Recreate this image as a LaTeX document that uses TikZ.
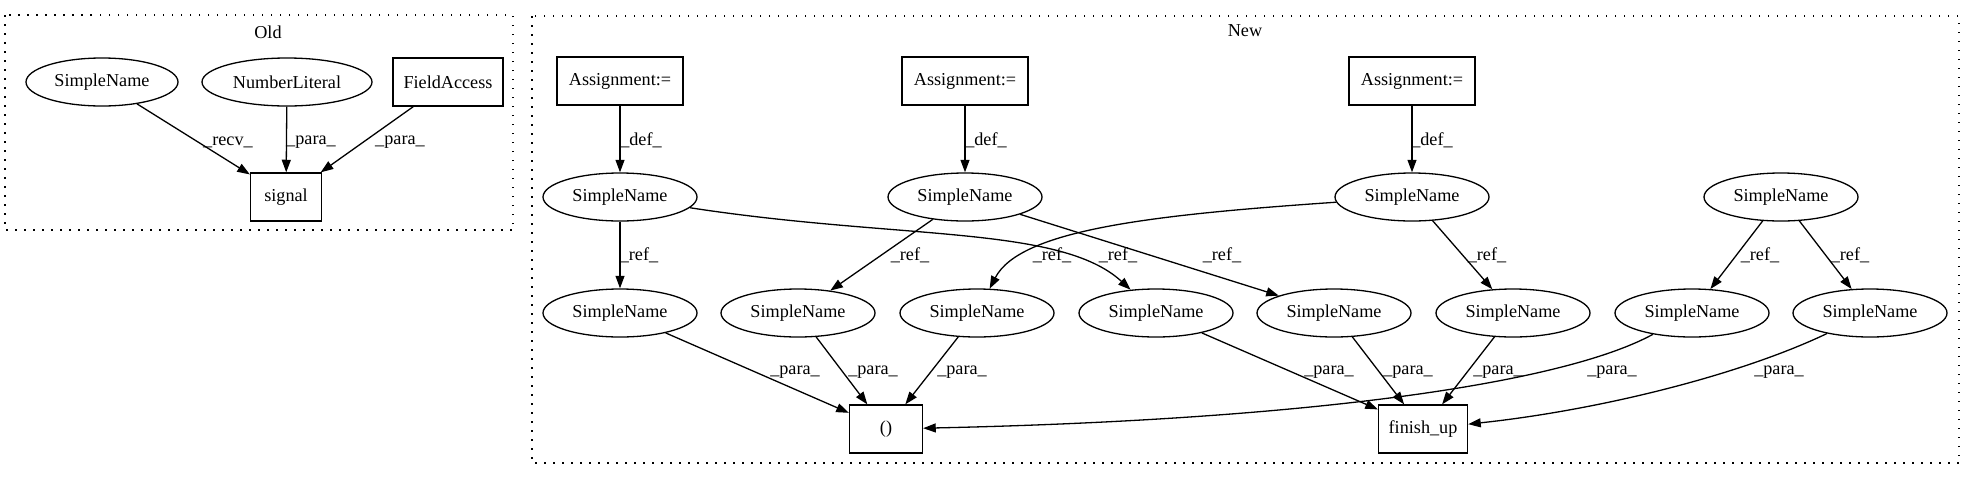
\documentclass[tikz,border=0pt]{standalone}
\usepackage{fontspec}
\setmainfont{Liberation Serif}
\usetikzlibrary{arrows.meta,shapes.geometric}
\begin{document}
\begin{tikzpicture}[x=1pt,y=1pt,
 every node/.style={font=\fontsize{18.2pt}{22pt}\selectfont, inner sep=0pt},
 ell/.style={draw, ellipse, line width=1.3pt, minimum width=154pt, minimum height=48pt},
 box/.style={draw, rectangle, line width=1.3pt, minimum height=48pt},
 edge/.style={line width=1.3pt, -{Triangle[length=12.6pt,width=9pt]}},
 lbl/.style={anchor=center},
 cluster/.style={line width=1.3pt, dash pattern=on 1.5pt off 7.5pt}]
\useasboundingbox (0,0) rectangle (1975,-480);
% clusters
\draw[cluster] (5,-15) rectangle (513,-230);
\draw[cluster] (532,-16) rectangle (1959,-463);
\node (tOld) at (268,-32) {Old};
\node (tNew) at (1245,-31) {New};
% Old nodes
\node[ell, minimum width=152pt] (oS) at (102,-82) {SimpleName};
\node[ell, minimum width=170pt] (oN) at (287,-82) {NumberLiteral};
\node[box, minimum width=110pt] (oF) at (448,-82) {FieldAccess};
\node[box, minimum width=71pt] (oSig) at (286,-197) {signal};
% New nodes
\node[box, minimum width=126pt] (A1) at (620,-81) {Assignment:=};
\node[box, minimum width=126pt] (A2) at (965,-81) {Assignment:=};
\node[box, minimum width=126pt] (A3) at (1412,-81) {Assignment:=};
\node[ell] (S1) at (620,-197) {SimpleName};
\node[ell] (S2) at (965,-197) {SimpleName};
\node[ell] (S3) at (1412,-197) {SimpleName};
\node[ell] (S4) at (1781,-197) {SimpleName};
\node[ell] (R1) at (620,-313) {SimpleName};
\node[ell] (R2) at (798,-313) {SimpleName};
\node[ell] (R3) at (977,-313) {SimpleName};
\node[ell] (R4) at (1156,-313) {SimpleName};
\node[ell] (R5) at (1334,-313) {SimpleName};
\node[ell] (R6) at (1513,-313) {SimpleName};
\node[ell] (R7) at (1692,-313) {SimpleName};
\node[ell] (R8) at (1870,-313) {SimpleName};
\node[box, minimum width=73pt] (P) at (886,-429) {()};
\node[box, minimum width=89pt] (F) at (1423,-429) {finish\_up};
% Old edges
\draw[edge] (oS) -- (oSig);
\draw[edge] (oN) -- (oSig);
\draw[edge] (oF) -- (oSig);
\node[lbl] (l1) at (228,-142) {\_recv\_};
\node[lbl] (l2) at (311,-142) {\_para\_};
\node[lbl] (l3) at (400,-142) {\_para\_};
% New edges: def
\draw[edge] (A1) -- (S1);
\draw[edge] (A2) -- (S2);
\draw[edge] (A3) -- (S3);
\node[lbl] (d1) at (641,-140) {\_def\_};
\node[lbl] (d2) at (986,-140) {\_def\_};
\node[lbl] (d3) at (1432,-140) {\_def\_};
% ref
\draw[edge] (S1) -- (R1);
\draw[edge] (S1) .. controls (900,-240) and (1060,-225) .. (R4);
\draw[edge] (S2) -- (R2);
\draw[edge] (S2) -- (R5);
\draw[edge] (S3) .. controls (1150,-215) and (1020,-230) .. (R3);
\draw[edge] (S3) -- (R6);
\draw[edge] (S4) -- (R7);
\draw[edge] (S4) -- (R8);
\node[lbl] (r1) at (639,-255) {\_ref\_};
\node[lbl] (r2) at (910,-255) {\_ref\_};
\node[lbl] (r3) at (1052,-255) {\_ref\_};
\node[lbl] (r4) at (1118,-255) {\_ref\_};
\node[lbl] (r5) at (1222,-255) {\_ref\_};
\node[lbl] (r6) at (1487,-255) {\_ref\_};
\node[lbl] (r7) at (1760,-255) {\_ref\_};
\node[lbl] (r8) at (1850,-255) {\_ref\_};
% para
\draw[edge] (R1) -- (P);
\draw[edge] (R2) -- (P);
\draw[edge] (R3) -- (P);
\draw[edge] (R7) .. controls (1560,-385) and (1300,-420) .. (P);
\draw[edge] (R4) -- (F);
\draw[edge] (R5) -- (F);
\draw[edge] (R6) -- (F);
\draw[edge] (R8) .. controls (1740,-375) and (1600,-410) .. (F);
\node[lbl] (p1) at (795,-372) {\_para\_};
\node[lbl] (p2) at (873,-372) {\_para\_};
\node[lbl] (p3) at (962,-372) {\_para\_};
\node[lbl] (p4) at (1329,-372) {\_para\_};
\node[lbl] (p5) at (1408,-372) {\_para\_};
\node[lbl] (p6) at (1498,-372) {\_para\_};
\node[lbl] (p7) at (1612,-372) {\_para\_};
\node[lbl] (p8) at (1779,-372) {\_para\_};
\end{tikzpicture}
\end{document}
